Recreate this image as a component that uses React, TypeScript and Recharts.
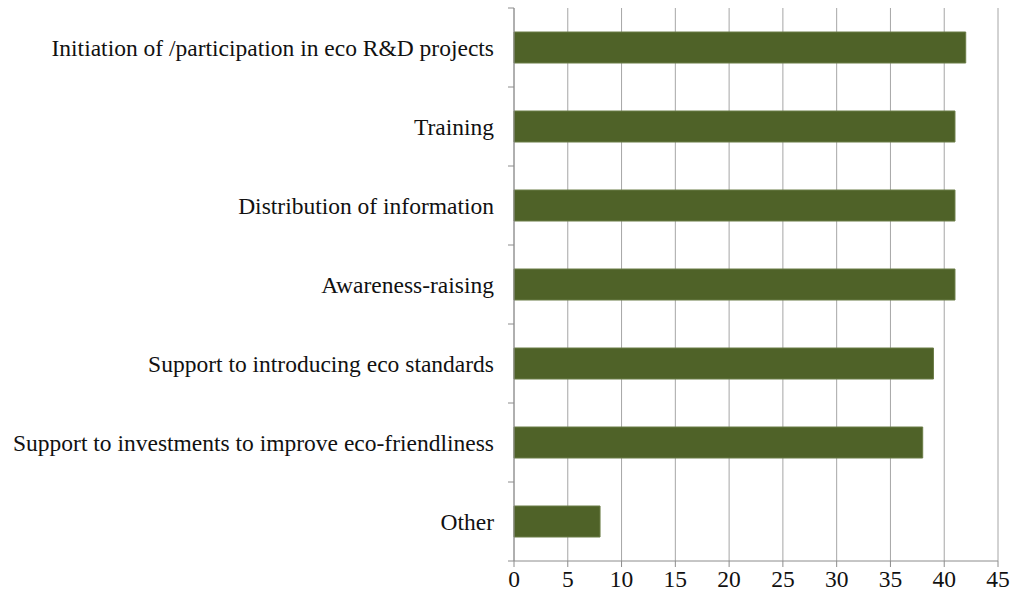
import { BarChart, Bar, XAxis, YAxis, CartesianGrid } from "recharts";

const categories = [
  "Initiation of /participation in eco R&D projects",
  "Training",
  "Distribution of information",
  "Awareness-raising",
  "Support to introducing eco standards",
  "Support to investments to improve eco-friendliness",
  "Other",
];
const values = [42, 41, 41, 41, 39, 38, 8];
const xTicks = [0, 5, 10, 15, 20, 25, 30, 35, 40, 45];

const data = categories.map((name, i) => ({ name, value: values[i] }));

const FONT = "'Liberation Serif', 'Times New Roman', serif";
const FS = 23.5;
const AXIS = "#8c8c8c";
const BAND = (561 - 8) / categories.length;

function YTick(props: any) {
  const { x, y, payload, index } = props;
  const last = index === categories.length - 1;
  return (
    <g>
      <line x1={x - 6} x2={x} y1={y - BAND / 2} y2={y - BAND / 2} stroke={AXIS} />
      {last && (
        <line x1={x - 6} x2={x} y1={y + BAND / 2} y2={y + BAND / 2} stroke={AXIS} />
      )}
      <text
        x={x - 20}
        y={y}
        textAnchor="end"
        dominantBaseline="central"
        fontFamily={FONT}
        fontSize={FS}
        fill="#111"
      >
        {payload.value}
      </text>
    </g>
  );
}

export default function App() {
  return (
    <div style={{ position: "absolute", left: 0, top: 0, background: "#fff" }}>
      <BarChart
        width={1013}
        height={603}
        data={data}
        layout="vertical"
        margin={{ top: 8, right: 15, bottom: 0, left: 0 }}
        barCategoryGap={0}
      >
        <CartesianGrid horizontal={false} stroke="#a6a6a6" />
        <XAxis
          type="number"
          domain={[0, 45]}
          ticks={xTicks}
          interval={0}
          height={42}
          stroke={AXIS}
          tickSize={6}
          tickMargin={3}
          tick={{ fontFamily: FONT, fontSize: FS, fill: "#111" }}
        />
        <YAxis
          type="category"
          dataKey="name"
          width={514}
          stroke={AXIS}
          tickSize={0}
          tickMargin={0}
          interval={0}
          tick={<YTick />}
        />
        <Bar
          dataKey="value"
          fill="#4f6228"
          stroke="#6b7d47"
          barSize={31}
          isAnimationActive={false}
        />
      </BarChart>
    </div>
  );
}
